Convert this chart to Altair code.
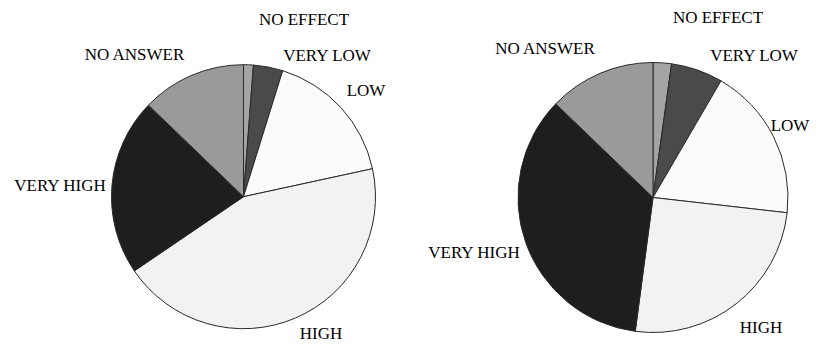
import altair as alt
import pandas as pd

categories = ["NO EFFECT", "VERY LOW", "LOW", "HIGH", "VERY HIGH", "NO ANSWER"]
left_values = [1.2, 3.6, 16.8, 43.9, 21.7, 12.8]
right_values = [2.2, 6.2, 18.4, 25.3, 35.1, 12.8]
colors = ["#a4a4a4", "#4a4a4a", "#fbfbfb", "#f2f2f2", "#1e1e1e", "#9a9a9a"]

# layout: pie centres / radii (pixels) and label positions
left_center = (235.5, 188.7)
right_center = (645.0, 189.5)
left_radius = 132
right_radius = 135
left_label_x = [296, 319, 358, 313, 52, 126.5]
left_label_y = [11.7, 48, 83.3, 325.5, 178, 47]
right_label_x = [710, 746, 782, 753, 466, 537]
right_label_y = [10, 48, 118, 320, 245, 41]

pie_rows = []
for i, c in enumerate(categories):
    pie_rows.append({"pie": "left", "category": c, "value": left_values[i], "idx": i})
    pie_rows.append({"pie": "right", "category": c, "value": right_values[i], "idx": i})
pies = pd.DataFrame(pie_rows)

label_rows = []
for i, c in enumerate(categories):
    label_rows.append({"category": c, "px": left_label_x[i], "py": left_label_y[i]})
    label_rows.append({"category": c, "px": right_label_x[i], "py": right_label_y[i]})
labels = pd.DataFrame(label_rows)

color = alt.Color("category:N", scale=alt.Scale(domain=categories, range=colors), legend=None)


def pie(side, center, radius):
    return (
        alt.Chart(pies)
        .transform_filter(alt.datum.pie == side)
        .mark_arc(stroke="#2a2a2a", strokeWidth=1, outerRadius=radius)
        .encode(
            theta=alt.Theta("value:Q", stack=True),
            color=color,
            order=alt.Order("idx:Q"),
            x=alt.value(center[0]),
            y=alt.value(center[1]),
        )
    )


text = (
    alt.Chart(labels)
    .mark_text(font="Liberation Serif", fontSize=17, color="#000000", align="center", baseline="middle")
    .encode(
        x=alt.X("px:Q", scale=None),
        y=alt.Y("py:Q", scale=None),
        text="category:N",
    )
)

chart = (
    alt.layer(pie("left", left_center, left_radius), pie("right", right_center, right_radius), text)
    .resolve_scale(theta="independent")
    .properties(width=802, height=335, autosize=alt.AutoSizeParams(type="none"), padding=0)
    .configure_view(stroke=None)
)

chart.save("out.html", embed_options={"renderer": "svg", "actions": False})
